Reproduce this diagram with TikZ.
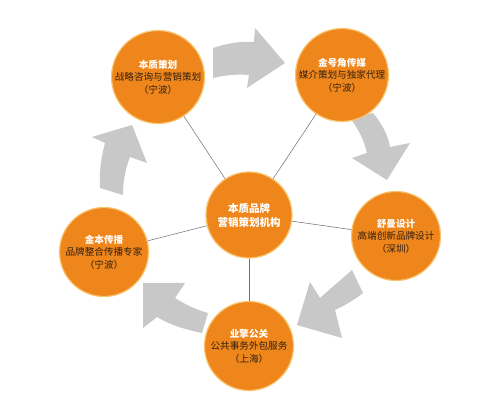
\documentclass[tikz,border=0pt]{standalone}
\usepackage{fontspec}
\newfontfamily\cjk{Noto Sans CJK SC}
\definecolor{orgfill}{RGB}{239,134,28}
\definecolor{orgedge}{RGB}{250,196,110}
\definecolor{bodytxt}{RGB}{50,32,16}
\definecolor{linkgray}{RGB}{110,110,110}
\definecolor{arrowgray}{RGB}{200,200,200}
\tikzset{
  orb/.style={circle, fill=orgfill, draw=orgedge, line width=1.2pt, minimum size=89pt, inner sep=0pt, align=center, text=bodytxt, font=\cjk\fontsize{9.6}{12.5}\selectfont},
  hub/.style={orb, minimum size=86pt, text=white, font=\cjk\bfseries\fontsize{10.5}{14}\selectfont},
  link/.style={draw=linkgray, line width=0.5pt},
  flow/.style={fill=arrowgray, draw=none},
}
\newcommand{\ttl}[1]{{\bfseries\color{white}#1}}
\begin{document}
\begin{tikzpicture}[x=1pt,y=-1pt]
\useasboundingbox[fill=white] (0,0) rectangle (500,419);
% block arrows
\path[flow] (213,48) .. controls (228,43) and (242,41) .. (254,42) -- (255,28) -- (285,63) -- (247,88) -- (249,75) .. controls (238,74) and (225,75) .. (213,78) -- cycle;
\path[flow] (350,118) -- (373,113) .. controls (382,124) and (388,135) .. (390,147) -- (410,143) -- (387,180) -- (352,158) -- (367,153) .. controls (364,140) and (358,128) .. (350,118) -- cycle;
\path[flow] (352,270) -- (363,293) .. controls (354,300) and (344,306) .. (335,310) -- (342,338) -- (297,325) -- (310,282) -- (320,298) .. controls (331,288) and (342,279) .. (352,270) -- cycle;
\path[flow] (143,283) -- (185,283) -- (175,298) .. controls (186,305) and (197,310) .. (208,313) -- (202,333) .. controls (187,330) and (170,325) .. (157,317) -- (143,328) -- cycle;
\path[flow] (100,188) -- (123,195) .. controls (123,180) and (126,167) .. (130,157) -- (147,163) -- (132,125) -- (92,137) -- (105,143) .. controls (101,158) and (99,173) .. (100,188) -- cycle;
% nodes
\node[hub] (c) at (249,215) {本质品牌\\营销策划机构};
\node[orb] (tl) at (158,77) {\ttl{本质策划}\\战略咨询与营销策划\\（宁波）};
\node[orb] (tr) at (342,75) {\ttl{金号角传媒}\\媒介策划与独家代理\\（宁波）};
\node[orb] (r) at (396,236) {\ttl{舒曼设计}\\高端创新品牌设计\\（深圳）};
\node[orb] (b) at (249,346) {\ttl{业擎公关}\\公共事务外包服务\\（上海）};
\node[orb] (l) at (104,252) {\ttl{金本传播}\\品牌整合传播专家\\（宁波）};
% connectors
\draw[link] (c) -- (tl);
\draw[link] (c) -- (tr);
\draw[link] (c) -- (r);
\draw[link] (c) -- (b);
\draw[link] (c) -- (l);
\end{tikzpicture}
\end{document}
